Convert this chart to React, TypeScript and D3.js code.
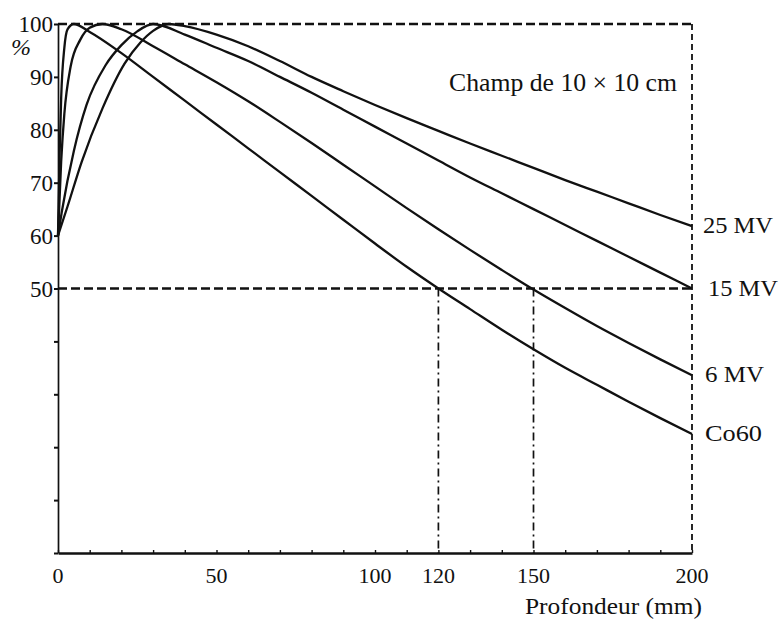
import React, { useEffect, useRef } from 'react';
import * as d3 from 'd3';

// Depth-dose curves (depth in mm, dose in %)
const co60Depth = [0, 0.5, 1, 2, 3, 5, 10, 20, 30, 40, 50, 60, 70, 80, 90, 100, 110, 120, 130, 140, 150, 160, 170, 180, 190, 200];
const co60Dose = [60, 75, 86, 95.5, 99, 100, 98.5, 94.5, 90, 85.5, 81, 76.5, 72, 67.5, 63, 58.5, 54.1, 50, 46.1, 42.2, 38.5, 35, 31.8, 28.6, 25.5, 22.5];

const mv6Depth = [0, 1, 2, 4, 7, 10, 14, 20, 30, 40, 50, 60, 70, 80, 90, 100, 110, 120, 130, 140, 150, 160, 170, 180, 190, 200];
const mv6Dose = [60, 74, 83, 92, 97, 99.3, 100, 99, 95.8, 92.4, 89, 85.4, 81.5, 77.5, 73.4, 69.3, 65.2, 61.2, 57.3, 53.5, 49.8, 46.3, 42.9, 39.7, 36.6, 33.6];

const mv15Depth = [0, 1.2, 5, 9, 15, 20, 25, 30, 40, 50, 60, 70, 80, 90, 100, 110, 120, 130, 140, 150, 160, 170, 180, 190, 200];
const mv15Dose = [60, 64.5, 76, 84.7, 92.2, 96, 98.6, 100, 98, 95.5, 93, 90, 87, 83.8, 80.6, 77.4, 74.2, 71, 68, 65, 62, 59, 56, 53, 50];

const mv25Depth = [0, 3, 7.5, 14, 21, 26, 30, 35, 40, 50, 60, 70, 80, 90, 100, 110, 120, 130, 140, 150, 160, 170, 180, 190, 200];
const mv25Dose = [60, 65.5, 74, 84, 92.5, 96.5, 98.7, 100, 99.6, 98, 95.8, 93, 90, 87.3, 84.7, 82.2, 79.8, 77.4, 75.1, 72.8, 70.5, 68.3, 66.1, 63.9, 61.8];

const seriesNames = ['Co60', '6 MV', '15 MV', '25 MV'];
const seriesDepths = [co60Depth, mv6Depth, mv15Depth, mv25Depth];
const seriesDoses = [co60Dose, mv6Dose, mv15Dose, mv25Dose];

const yTicks = [0, 10, 20, 30, 40, 50, 60, 70, 80, 90, 100];
const xLabelTicks = [0, 50, 100, 120, 150, 200];
const halfDepths = [120, 150];

const FONT = '"Liberation Serif", "DejaVu Serif", serif';

const App = () => {
  const ref = useRef<SVGSVGElement | null>(null);

  useEffect(() => {
    if (!ref.current) return;
    const svg = d3.select(ref.current);
    svg.selectAll('*').remove();

    const x = d3.scaleLinear().domain([0, 200]).range([58, 692]);
    const y = d3.scaleLinear().domain([0, 100]).range([553, 24]);
    const ink = '#111';

    svg.append('rect').attr('width', 781).attr('height', 623).attr('fill', '#fff');

    // dashed frame: top at 100 %, right at 200 mm
    svg.append('line')
      .attr('x1', x(0)).attr('x2', x(200))
      .attr('y1', y(100)).attr('y2', y(100))
      .attr('stroke', ink).attr('stroke-width', 2.4)
      .attr('stroke-dasharray', '9,4');
    svg.append('line')
      .attr('x1', x(200)).attr('x2', x(200))
      .attr('y1', y(100)).attr('y2', y(0))
      .attr('stroke', ink).attr('stroke-width', 1.8)
      .attr('stroke-dasharray', '6,4');

    // 50 % line
    svg.append('line')
      .attr('x1', x(0)).attr('x2', x(200))
      .attr('y1', y(50)).attr('y2', y(50))
      .attr('stroke', ink).attr('stroke-width', 2.4)
      .attr('stroke-dasharray', '9,4');

    // dash-dot drops at the half-value depths
    svg.selectAll('.drop')
      .data(halfDepths)
      .enter()
      .append('line')
      .attr('x1', d => x(d)).attr('x2', d => x(d))
      .attr('y1', y(50)).attr('y2', y(0))
      .attr('stroke', ink).attr('stroke-width', 1.7)
      .attr('stroke-dasharray', '8,4,2,4');

    // y axis
    const yAxis = svg.append('g')
      .attr('transform', `translate(${x(0)},0)`)
      .call(d3.axisLeft(y).tickValues(yTicks).tickSize(4).tickSizeOuter(0)
        .tickFormat(d => (+d >= 50 ? String(d) : '')));
    yAxis.select('.domain').attr('stroke', ink).attr('stroke-width', 1.7);
    yAxis.selectAll('.tick line').attr('stroke', ink).attr('stroke-width', 2);
    yAxis.selectAll('.tick text')
      .attr('x', -5)
      .attr('dy', '0.34em')
      .style('font-family', FONT)
      .style('font-size', '23px')
      .style('fill', ink);

    // x axis: minor ticks every 10 mm pointing up
    const xAxis = svg.append('g')
      .attr('transform', `translate(0,${y(0)})`)
      .call(d3.axisBottom(x).tickValues(d3.range(0, 201, 10)).tickSize(-3).tickSizeOuter(0).tickFormat(() => ''));
    xAxis.select('.domain').attr('stroke', ink).attr('stroke-width', 2.6);
    xAxis.selectAll('.tick line').attr('stroke', ink).attr('stroke-width', 1.4);

    svg.append('g')
      .selectAll('text')
      .data(xLabelTicks)
      .enter()
      .append('text')
      .attr('x', d => x(d))
      .attr('y', 583)
      .attr('text-anchor', 'middle')
      .style('font-family', FONT)
      .style('font-size', '22px')
      .style('fill', ink)
      .text(d => String(d));

    // curves
    const line = d3.line<[number, number]>()
      .x(d => x(d[0]))
      .y(d => y(d[1]))
      .curve(d3.curveMonotoneX);

    const labelWidths = [57, 59, 70, 70];
    const labelShift = [13, 13, 16, 11];

    seriesNames.forEach((name, i) => {
      const pts = seriesDepths[i].map((dp, j) => [dp, seriesDoses[i][j]] as [number, number]);
      svg.append('path')
        .attr('d', line(pts))
        .attr('fill', 'none')
        .attr('stroke', ink)
        .attr('stroke-width', 2.3)
        .attr('stroke-linejoin', 'round');

      const last = seriesDoses[i][seriesDoses[i].length - 1];
      svg.append('text')
        .attr('x', x(200) + labelShift[i])
        .attr('y', y(last) + 7)
        .attr('textLength', labelWidths[i])
        .attr('lengthAdjust', 'spacingAndGlyphs')
        .style('font-family', FONT)
        .style('font-size', '24px')
        .style('fill', ink)
        .text(name);
    });

    // titles
    svg.append('text')
      .attr('x', 11).attr('y', 55)
      .style('font-family', FONT)
      .style('font-size', '24px')
      .style('font-style', 'italic')
      .style('fill', ink)
      .text('%');

    svg.append('text')
      .attr('x', 449).attr('y', 91)
      .attr('textLength', 228)
      .attr('lengthAdjust', 'spacingAndGlyphs')
      .style('font-family', FONT)
      .style('font-size', '26px')
      .style('fill', ink)
      .text('Champ de 10 × 10 cm');

    svg.append('text')
      .attr('x', 525).attr('y', 614)
      .attr('textLength', 177)
      .attr('lengthAdjust', 'spacingAndGlyphs')
      .style('font-family', FONT)
      .style('font-size', '24px')
      .style('fill', ink)
      .text('Profondeur (mm)');
  }, []);

  return (
    <svg
      ref={ref}
      width={781}
      height={623}
      style={{ position: 'absolute', left: 0, top: 0, display: 'block' }}
    />
  );
};

export default App;
